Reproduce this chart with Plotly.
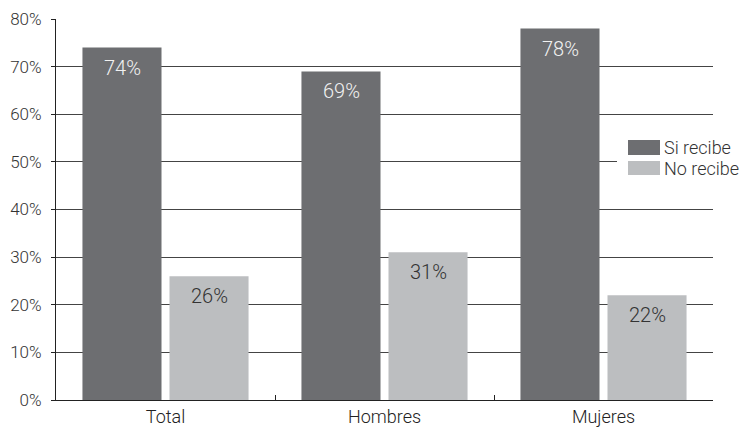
import plotly.graph_objects as go

categories = ["Total", "Hombres", "Mujeres"]
si_recibe = [74, 69, 78]
no_recibe = [26, 31, 22]
series_names = ["Si recibe", "No recibe"]
y_ticks = [0, 10, 20, 30, 40, 50, 60, 70, 80]

DARK = "#6d6e71"
LIGHT = "#bcbec0"
FONT = "Roboto, sans-serif"
W = 300

fig = go.Figure()
fig.add_trace(go.Bar(x=categories, y=si_recibe, name=series_names[0],
                     marker=dict(color=DARK, line=dict(width=0))))
fig.add_trace(go.Bar(x=categories, y=no_recibe, name=series_names[1],
                     marker=dict(color=LIGHT, line=dict(width=0))))

annotations = []
for cat, v in zip(categories, si_recibe):
    annotations.append(dict(x=cat, y=v, xref="x", yref="y", text=f"{v}%",
                            showarrow=False, xshift=-43.5, yshift=-20,
                            font=dict(family=FONT, size=20, color="#f2f2f2", weight=W)))
for cat, v in zip(categories, no_recibe):
    annotations.append(dict(x=cat, y=v, xref="x", yref="y", text=f"{v}%",
                            showarrow=False, xshift=43.5, yshift=-20,
                            font=dict(family=FONT, size=20, color="#333333", weight=W)))

# manual legend
def px_x(p):
    return (p - 56) / 657
def px_y(p):
    return (400 - p) / 381

shapes = [
    dict(type="rect", xref="paper", yref="paper", x0=px_x(617), x1=px_x(742),
         y0=px_y(186), y1=px_y(134), fillcolor="white", line=dict(width=0), layer="above"),
    dict(type="rect", xref="paper", yref="paper", x0=px_x(628), x1=px_x(660),
         y0=px_y(155), y1=px_y(140), fillcolor=DARK, line=dict(width=0), layer="above"),
    dict(type="rect", xref="paper", yref="paper", x0=px_x(628), x1=px_x(660),
         y0=px_y(175), y1=px_y(161), fillcolor=LIGHT, line=dict(width=0), layer="above"),
]
annotations.append(dict(x=px_x(662), y=px_y(148), xref="paper", yref="paper",
                        text=series_names[0], showarrow=False, xanchor="left", yanchor="middle",
                        font=dict(family=FONT, size=18, color="#333333", weight=W)))
annotations.append(dict(x=px_x(662), y=px_y(168), xref="paper", yref="paper",
                        text=series_names[1], showarrow=False, xanchor="left", yanchor="middle",
                        font=dict(family=FONT, size=18, color="#333333", weight=W)))

fig.update_layout(
    width=740, height=431,
    margin=dict(l=56, r=27, t=19, b=31, autoexpand=False),
    paper_bgcolor="white", plot_bgcolor="white",
    barmode="group", bargap=0.205, bargroupgap=0.092,
    showlegend=False,
    font=dict(family=FONT, size=17, color="#333333", weight=W),
    annotations=annotations, shapes=shapes,
)
fig.update_xaxes(showline=True, linecolor="#222222", linewidth=1,
                 ticks="inside", tickson="boundaries", ticklen=5, tickcolor="#222222",
                 ticklabelstandoff=0,
                 tickfont=dict(family=FONT, size=18, color="#222222", weight=W),
                 showgrid=False, automargin=False)
fig.update_yaxes(range=[0, 80], tickvals=y_ticks, ticktext=[f"{t}%" for t in y_ticks],
                 showline=True, linecolor="#222222", linewidth=1,
                 ticks="outside", ticklen=4, tickcolor="#222222",
                 ticklabelstandoff=6, automargin=False,
                 tickfont=dict(family=FONT, size=17, color="#333333", weight=W),
                 showgrid=True, gridcolor="#444444", gridwidth=1,
                 zeroline=False)

fig.write_html("out.html")
